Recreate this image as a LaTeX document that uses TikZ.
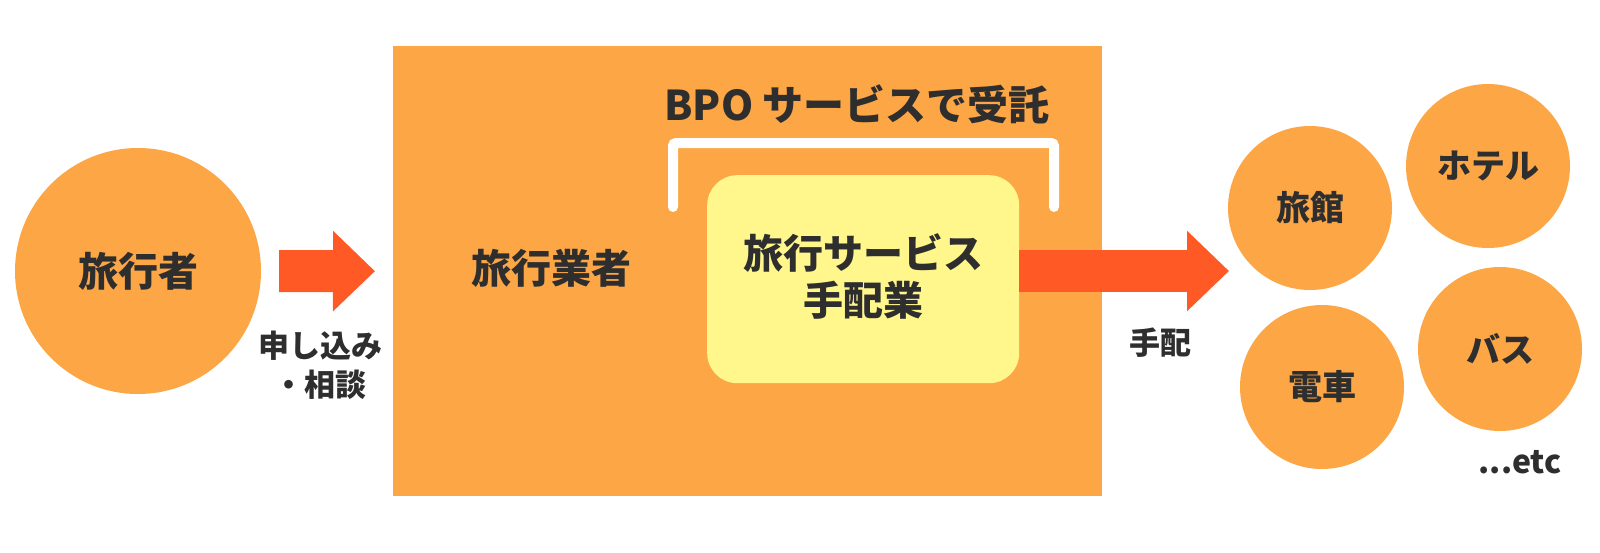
\documentclass[tikz,border=0pt]{standalone}
\usepackage{fontspec}
\setmainfont{Noto Sans CJK JP}
\usetikzlibrary{arrows.meta}
\definecolor{orng}{HTML}{FCA646}
\definecolor{redarr}{HTML}{FF5A26}
\definecolor{ylw}{HTML}{FFF68C}
\definecolor{txt}{HTML}{2E2E2E}
\begin{document}
\begin{tikzpicture}[x=1pt,y=-1pt,
  circ/.style={circle,fill=orng,inner sep=0pt,minimum size=#1,text=txt,font=\fontsize{34}{40}\selectfont\bfseries},
  bigtxt/.style={text=txt,font=\fontsize{40}{47}\selectfont\bfseries},
  smalltxt/.style={text=txt,font=\fontsize{31}{39}\selectfont\bfseries},
  fatarrow/.style={draw=redarr,line width=42pt,-{Triangle[length=42pt,width=78pt]}}]
\useasboundingbox (0,0) rectangle (1600,552);
% traveller
\node[circ=246pt,font=\fontsize{40}{46}\selectfont\bfseries] (trav) at (138,271) {旅行者};
% travel agency box
\node[fill=orng,minimum width=709pt,minimum height=450pt,inner sep=0pt,anchor=north west] (biz) at (393,46) {};
\node[bigtxt] (bizlbl) at (551,268) {旅行業者};
\node[bigtxt,font=\fontsize{41}{47}\selectfont\bfseries] (bpo) at (857,104) {BPO サービスで受託};
\draw[white,line width=10pt,line cap=round,rounded corners=3pt] (673,207) -- (673,143) -- (1054,143) -- (1054,207);
% yellow box
\node[fill=ylw,rounded corners=30pt,minimum width=312pt,minimum height=208pt,inner sep=0pt,anchor=north west] (yel) at (707,175) {};
\node[bigtxt,align=center] (yellbl) at ([yshift=3pt]yel.center) {旅行サービス\\手配業};
% left arrow
\draw[fatarrow] ([xshift=18pt]trav.east) -- ([xshift=-18pt]biz.west);
\node[smalltxt,align=center] (apply) at (320,365) {申し込み\\・相談};
% right arrow
\coordinate (rtip) at (1229,271);
\draw[fatarrow] (yel.east |- rtip) -- (rtip);
\node[smalltxt] (arr) at (1160,343) {手配};
% providers
\node[circ=164pt] (ryokan) at (1310,208) {旅館};
\node[circ=164pt] (hotel) at (1488,166) {ホテル};
\node[circ=164pt] (train) at (1322,387) {電車};
\node[circ=164pt] (bus) at (1500,349) {バス};
\node[smalltxt,font=\fontsize{32}{38}\selectfont\bfseries] (etc) at (1520,462) {...etc};
\end{tikzpicture}
\end{document}
